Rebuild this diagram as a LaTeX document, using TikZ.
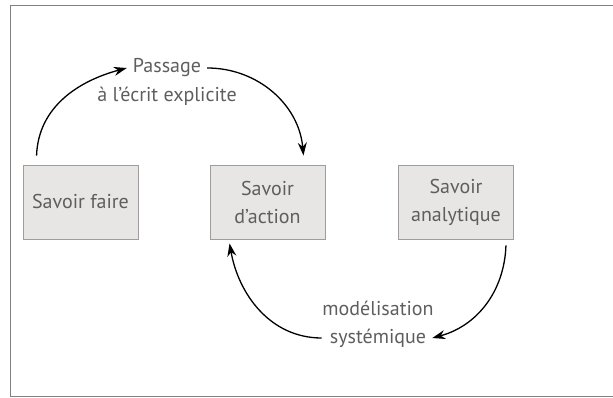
\documentclass[tikz,border=0pt]{standalone}
\usepackage{fontspec}
\setmainfont{PT Sans}
\usetikzlibrary{arrows.meta}

\definecolor{boxfill}{HTML}{E8E6E5}
\definecolor{boxline}{HTML}{A09C9B}
\definecolor{inkgray}{HTML}{5E5E5E}

\tikzset{
  savoir/.style={draw=boxline, fill=boxfill, line width=0.9pt,
    minimum width=115pt, minimum height=74pt, inner sep=0pt,
    align=center, text=inkgray, font=\fontsize{20}{28}\selectfont},
  label/.style={text=inkgray, inner sep=2pt, font=\fontsize{20}{22}\selectfont},
  arr/.style={line width=1.3pt, -{Stealth[length=13pt,width=9pt]}}
}

\begin{document}
\begin{tikzpicture}[x=1pt,y=-1pt]
            \useasboundingbox (0,0) rectangle (613,398);
            % frame, open on the right
            \draw[gray, line width=1pt] (613,5.5) -- (10.5,5.5) -- (10.5,396.5) -- (613,396.5);

            \node[savoir] (faire)  at (80.5,202) {Savoir faire};
            \node[savoir] (action) at (267.5,202) {Savoir\\d'action};
            \node[savoir] (analyt) at (456,202) {Savoir\\analytique};

            \node[label] (passage) at (167,68) {Passage};
            \node[label] (ecrit)   at (167,96) {à l'écrit explicite};
            \node[label] (modelis) at (378,308) {modélisation};
            \node[label] (systemq) at (378,338) {systémique};

            \draw[arr] ([xshift=14pt,yshift=9pt]faire.north west) to[out=88,in=195] ([xshift=-4pt]passage.west);
            \draw[arr] ([xshift=4pt]passage.east) to[out=0,in=95] ([xshift=-22pt,yshift=9pt]action.north east);
            \draw[arr] ([xshift=-8pt,yshift=-6pt]analyt.south east) to[out=-92,in=15] ([xshift=4pt]systemq.east);
            \draw[arr] ([xshift=-6pt]systemq.west) to[out=180,in=-80] ([xshift=20pt,yshift=-4pt]action.south west);
\end{tikzpicture}
\end{document}
